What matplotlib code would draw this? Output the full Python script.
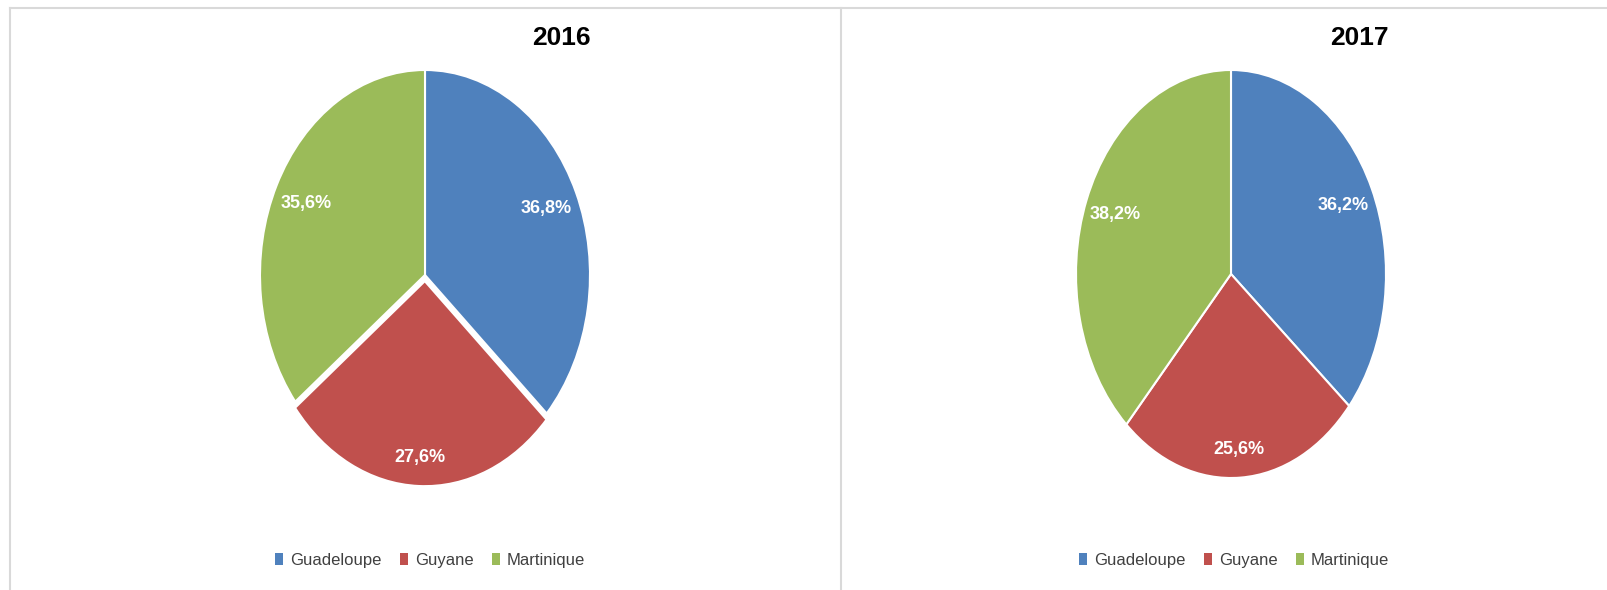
import math
import matplotlib.pyplot as plt
from matplotlib.lines import Line2D
from matplotlib.patches import Patch


# data
regions = ['Guadeloupe', 'Guyane', 'Martinique']
share2016 = [36.8, 27.6, 35.6]
share2017 = [36.2, 25.6, 38.2]
labels2016 = ['36,8%', '27,6%', '35,6%']
labels2017 = ['36,2%', '25,6%', '38,2%']
colors = ['#4F81BD', '#C0504D', '#9BBB59']

plt.rcParams['font.family'] = ['Liberation Sans', 'DejaVu Sans']

W, H = 1608, 590
fig = plt.figure(figsize=(W / 100, H / 100), dpi=100)

labelDist = [0.8, 0.86, 0.8]   # how far in the wedge each label sits


def px(x, y, w, h):
    # pixel box (top-left origin) -> figure fraction
    return [x / W, (H - y - h) / H, w / W, h / H]


def drawPie(box, values, texts, explode, title, titleX, legendX):

    ax = fig.add_axes(px(*box))
    wedges, _ = ax.pie(values, colors=colors, startangle=90, counterclock=False,
                       explode=explode, wedgeprops=dict(edgecolor='white', linewidth=1.5))

    # percentage labels inside the wedges
    for w, t, d in zip(wedges, texts, labelDist):
        mid = math.radians((w.theta1 + w.theta2) / 2)
        cx, cy = w.center
        ax.text(cx + d * math.cos(mid), cy + d * math.sin(mid), t,
                ha='center', va='center', color='white', fontsize=13, fontweight='bold')

    ax.set_xlim(-1.0, 1.0)
    ax.set_ylim(-1.0, 1.0)
    ax.set_aspect('auto')
    ax.axis('off')

    fig.text(titleX / W, 1 - 38 / H, title, ha='center', va='center',
             fontsize=19, fontweight='bold', color='black')

    handles = [Patch(facecolor=c, edgecolor='none') for c in colors]
    fig.legend(handles, regions, loc='center', bbox_to_anchor=(legendX / W, 1 - 560 / H),
               ncol=3, frameon=False, fontsize=12, handlelength=0.5, handleheight=0.7,
               handletextpad=0.4, columnspacing=1.1, labelcolor='#404040')


drawPie((260, 70, 330, 410), share2016, labels2016, [0, 0.03, 0], '2016', 561, 430)
drawPie((1076, 70, 310, 408), share2017, labels2017, [0, 0, 0], '2017', 1359, 1234)

# panel borders
border = '#D9D9D9'
fig.add_artist(Line2D([10 / W, 1], [1 - 8 / H, 1 - 8 / H], color=border, lw=1.5))
fig.add_artist(Line2D([10 / W, 10 / W], [0, 1 - 8 / H], color=border, lw=1.5))
fig.add_artist(Line2D([841 / W, 841 / W], [0, 1 - 8 / H], color=border, lw=1.5))

fig.savefig('out.png', dpi=100)
